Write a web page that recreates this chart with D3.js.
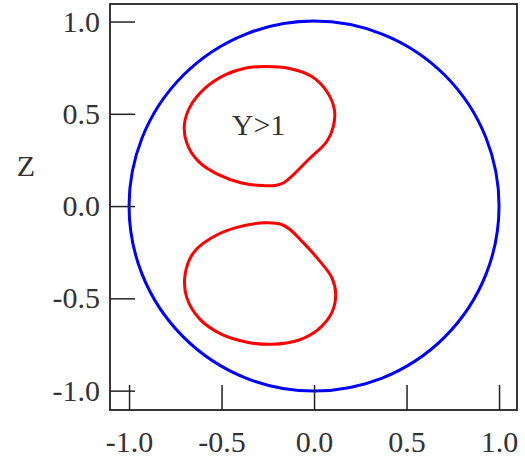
<!DOCTYPE html>
<html>
<head>
<meta charset="utf-8">
<script src="https://cdn.jsdelivr.net/npm/d3@7"></script>
<style>
  body { margin: 0; background: #fff; }
  text { font-family: "Liberation Serif", "Times New Roman", serif; fill: #333; }
</style>
</head>
<body>
<script>
// tick values for both axes
const xTicks = [-1.0, -0.5, 0.0, 0.5, 1.0]
const zTicks = [-1.0, -0.5, 0.0, 0.5, 1.0]

// outer boundary (blue), radius in data units
const boundary = [{cx: 0, cz: 0, r: 1.0}]

// Y>1 region, upper lobe (x, z)
const upperLobe = [
  [-0.265, 0.756], [-0.139, 0.747], [-0.012, 0.702], [0.069, 0.621],
  [0.110, 0.522], [0.104, 0.431], [0.069, 0.350], [-0.031, 0.251],
  [-0.121, 0.161], [-0.166, 0.125], [-0.211, 0.112], [-0.283, 0.111],
  [-0.391, 0.125], [-0.517, 0.170], [-0.625, 0.242], [-0.688, 0.342],
  [-0.701, 0.441], [-0.670, 0.539], [-0.589, 0.639], [-0.481, 0.711],
  [-0.373, 0.747]
]

// lower lobe (x, z)
const lowerLobe = [
  [-0.265, -0.091], [-0.175, -0.100], [-0.130, -0.127], [-0.066, -0.190],
  [0.023, -0.289], [0.096, -0.388], [0.117, -0.478], [0.096, -0.577],
  [0.023, -0.668], [-0.085, -0.727], [-0.229, -0.749], [-0.355, -0.739],
  [-0.499, -0.695], [-0.616, -0.614], [-0.688, -0.496], [-0.697, -0.370],
  [-0.652, -0.253], [-0.553, -0.172], [-0.427, -0.118]
]

const regionLabel = [{text: 'Y>1', x: -0.30, z: 0.386}]

const width = 525, height = 459
const margin = {top: 4, right: 8, bottom: 49, left: 110}

const svg = d3.select('body')
  .append('svg')
  .attr('width', width)
  .attr('height', height)

const plotW = width - margin.left - margin.right
const plotH = height - margin.top - margin.bottom

const x = d3.scaleLinear()
  .domain([-1.103, 1.097])
  .range([margin.left, margin.left + plotW])

const z = d3.scaleLinear()
  .domain([-1.105, 1.095])
  .range([margin.top + plotH, margin.top])

/* curves */
svg.selectAll('circle.boundary')
  .data(boundary)
  .enter().append('circle')
  .attr('class', 'boundary')
  .attr('cx', d => x(d.cx))
  .attr('cy', d => z(d.cz))
  .attr('r', d => x(d.r) - x(0))
  .attr('fill', 'none')
  .attr('stroke', '#0000ff')
  .attr('stroke-width', 3)

const lobeLine = d3.line()
  .x(d => x(d[0]))
  .y(d => z(d[1]))
  .curve(d3.curveCatmullRomClosed.alpha(0.5))

svg.selectAll('path.lobe')
  .data([upperLobe, lowerLobe])
  .enter().append('path')
  .attr('class', 'lobe')
  .attr('d', lobeLine)
  .attr('fill', 'none')
  .attr('stroke', '#ff0000')
  .attr('stroke-width', 3)

/* axes: inward ticks, labels outside */
const xaxis = d3.axisBottom(x)
  .tickValues(xTicks)
  .tickSizeInner(-25)
  .tickSizeOuter(0)
  .tickPadding(21)
  .tickFormat(d3.format('.1f'))

const zaxis = d3.axisLeft(z)
  .tickValues(zTicks)
  .tickSizeInner(-25)
  .tickSizeOuter(0)
  .tickPadding(10)
  .tickFormat(d3.format('.1f'))

const gx = svg.append('g')
  .attr('transform', `translate(0,${margin.top + plotH})`)
  .call(xaxis)

const gz = svg.append('g')
  .attr('transform', `translate(${margin.left},0)`)
  .call(zaxis)

for (const g of [gx, gz]) {
  g.select('.domain').remove()
  g.selectAll('.tick line').attr('stroke', '#222').attr('stroke-width', 1.5)
  g.selectAll('.tick text')
    .attr('fill', '#333')
    .style('font-family', '"Liberation Serif", serif')
    .style('font-size', '30px')
    .text(d => d3.format('.1f')(d).replace('−', '-'))
}

/* frame */
svg.append('rect')
  .attr('x', margin.left)
  .attr('y', margin.top)
  .attr('width', plotW)
  .attr('height', plotH)
  .attr('fill', 'none')
  .attr('stroke', '#222')
  .attr('stroke-width', 1.8)

/* axis title */
svg.append('text')
  .attr('x', 26)
  .attr('y', z(0.2))
  .attr('text-anchor', 'middle')
  .attr('dominant-baseline', 'middle')
  .style('font-size', '30px')
  .text('Z')

/* region label */
svg.selectAll('text.region')
  .data(regionLabel)
  .enter().append('text')
  .attr('class', 'region')
  .attr('x', d => x(d.x))
  .attr('y', d => z(d.z))
  .attr('text-anchor', 'middle')
  .style('font-size', '30px')
  .text(d => d.text)
</script>
</body>
</html>
